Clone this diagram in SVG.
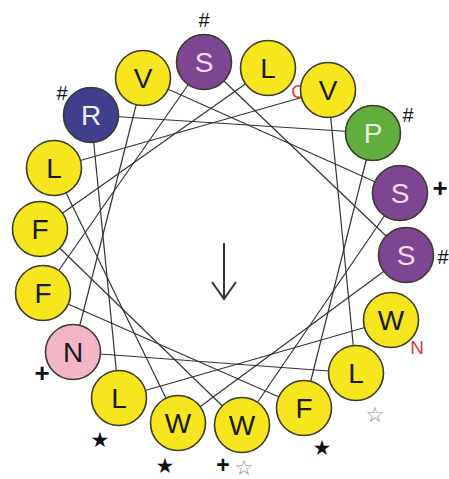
<svg xmlns="http://www.w3.org/2000/svg" width="449" height="479" viewBox="0 0 449 479">
<style>
.c{stroke:#3b3a2c;stroke-width:1.6}
.y{fill:#f7e61e}
.p{fill:#7e4592}
.b{fill:#3f3f8e}
.g{fill:#5fae3e}
.k{fill:#f4b6c6}
.t{font-family:"Liberation Sans",Arial,sans-serif;font-size:28px;text-anchor:middle}
.tk{fill:#1a1a1a}
.tw{fill:#f6dcf3}
.l{font-family:"Liberation Sans",Arial,sans-serif;text-anchor:middle;fill:#111}
.s{font-family:"DejaVu Sans",sans-serif;text-anchor:middle;font-size:21px}
.r{font-family:"Liberation Sans",Arial,sans-serif;font-size:19px;text-anchor:middle;fill:#e0383a}
#connectors line{stroke:#333;stroke-width:1.2}
</style>
<rect width="449" height="479" fill="#fff"/>
<g id="connectors">
<line x1="391" y1="320" x2="119" y2="398"/>
<line x1="119" y1="398" x2="91" y2="115"/>
<line x1="91" y1="115" x2="373" y2="133"/>
<line x1="373" y1="133" x2="304" y2="408"/>
<line x1="304" y1="408" x2="43" y2="293"/>
<line x1="43" y1="293" x2="204" y2="62"/>
<line x1="204" y1="62" x2="406" y2="255"/>
<line x1="406" y1="255" x2="178" y2="423"/>
<line x1="178" y1="423" x2="54" y2="168"/>
<line x1="54" y1="168" x2="328" y2="90"/>
<line x1="328" y1="90" x2="356" y2="373"/>
<line x1="356" y1="373" x2="73" y2="352"/>
<line x1="73" y1="352" x2="143" y2="78"/>
<line x1="143" y1="78" x2="400" y2="193"/>
<line x1="400" y1="193" x2="242" y2="425"/>
<line x1="242" y1="425" x2="40" y2="229"/>
<line x1="40" y1="229" x2="268" y2="68"/>
</g>
<g id="arrow" stroke="#333" stroke-width="2" fill="none">
<line x1="224" y1="243" x2="224" y2="299"/>
<polyline points="212,282 224,299 236,282"/>
</g>
<text class="r" x="298" y="98">C</text>
<g id="n0"><circle class="c p" cx="204" cy="62" r="27.5"/><text class="t tw" x="204" y="72">S</text></g>
<g id="n1"><circle class="c y" cx="268" cy="68" r="27.5"/><text class="t tk" x="268" y="78">L</text></g>
<g id="n2"><circle class="c y" cx="328" cy="90" r="27.5"/><text class="t tk" x="328" y="100">V</text></g>
<g id="n3"><circle class="c g" cx="373" cy="133" r="27.5"/><text class="t" fill="#e4f3dc" x="373" y="143">P</text></g>
<g id="n4"><circle class="c p" cx="400" cy="193" r="27.5"/><text class="t tw" x="400" y="203">S</text></g>
<g id="n5"><circle class="c p" cx="406" cy="255" r="27.5"/><text class="t tw" x="406" y="265">S</text></g>
<g id="n6"><circle class="c y" cx="391" cy="320" r="27.5"/><text class="t tk" x="391" y="330">W</text></g>
<g id="n7"><circle class="c y" cx="356" cy="373" r="27.5"/><text class="t tk" x="356" y="383">L</text></g>
<g id="n8"><circle class="c y" cx="304" cy="408" r="27.5"/><text class="t tk" x="304" y="418">F</text></g>
<g id="n9"><circle class="c y" cx="242" cy="425" r="27.5"/><text class="t tk" x="242" y="435">W</text></g>
<g id="n10"><circle class="c y" cx="178" cy="423" r="27.5"/><text class="t tk" x="178" y="433">W</text></g>
<g id="n11"><circle class="c y" cx="119" cy="398" r="27.5"/><text class="t tk" x="119" y="408">L</text></g>
<g id="n12"><circle class="c k" cx="73" cy="352" r="27.5"/><text class="t tk" x="73" y="362">N</text></g>
<g id="n13"><circle class="c y" cx="43" cy="293" r="27.5"/><text class="t tk" x="43" y="303">F</text></g>
<g id="n14"><circle class="c y" cx="40" cy="229" r="27.5"/><text class="t tk" x="40" y="239">F</text></g>
<g id="n15"><circle class="c y" cx="54" cy="168" r="27.5"/><text class="t tk" x="54" y="178">L</text></g>
<g id="n16"><circle class="c b" cx="91" cy="115" r="27.5"/><text class="t" fill="#eeeef8" x="91" y="125">R</text></g>
<g id="n17"><circle class="c y" cx="143" cy="78" r="27.5"/><text class="t tk" x="143" y="88">V</text></g>
<g id="labels">
<text class="l" font-size="20" x="204" y="27">#</text>
<text class="l" font-size="20" x="62" y="100">#</text>
<text class="l" font-size="20" x="408" y="122">#</text>
<text class="l" font-size="20" x="443" y="264">#</text>
<text class="l" font-size="26" font-weight="bold" x="440" y="197">+</text>
<text class="l" font-size="26" font-weight="bold" x="42" y="382">+</text>
<text class="l" font-size="23" font-weight="bold" x="223" y="473">+</text>
<text class="r" x="417" y="354">N</text>
<text class="s" fill="#111" x="100" y="447">★</text>
<text class="s" fill="#111" x="165" y="473">★</text>
<text class="s" fill="#111" x="322" y="455">★</text>
<text class="s" fill="#888" x="244" y="475">☆</text>
<text class="s" fill="#888" x="375" y="422">☆</text>
</g>
</svg>
